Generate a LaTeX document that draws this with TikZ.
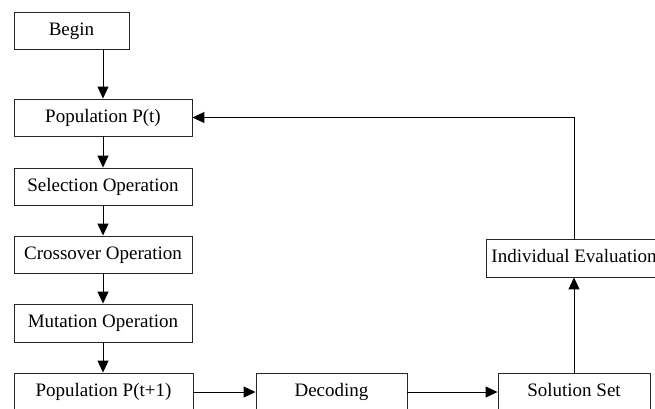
\documentclass[tikz,border=0pt]{standalone}
\usepackage{fontspec}
\setmainfont{Liberation Serif}
\usetikzlibrary{arrows.meta}
\begin{document}
\begin{tikzpicture}[x=1pt,y=-1pt,
  box/.style={draw=black!85,line width=0.9pt,rectangle,inner sep=0pt,
    font=\fontsize{19}{22}\selectfont,minimum height=37pt,
    text height=13pt,text depth=4pt},
  conn/.style={draw=black,line width=1pt,-{Triangle[length=12pt,width=11pt]}}]
\clip (0,0) rectangle (655,408);
\fill[white] (0,0) rectangle (655,408);
\node[box,minimum width=115pt] (begin) at (71.5,30.5) {Begin};
\node[box,minimum width=178pt] (popt) at (103,117.5) {Population P(t)};
\node[box,minimum width=178pt] (sel) at (103,186.5) {Selection Operation};
\node[box,minimum width=178pt] (cross) at (103,254.5) {Crossover Operation};
\node[box,minimum width=178pt,minimum height=38pt] (mut) at (103,323) {Mutation Operation};
\node[box,minimum width=179pt,minimum height=38pt] (popt1) at (103.5,392) {Population P(t+1)};
\node[box,minimum width=151pt,minimum height=38pt] (dec) at (331.5,392) {Decoding};
\node[box,minimum width=152pt,minimum height=38pt] (sol) at (574,392) {Solution Set};
\node[box,minimum width=176pt,minimum height=38pt] (ind) at (574,258) {Individual Evaluation};
\draw[conn] (popt.north |- begin.south) -- (popt.north);
\draw[conn] (popt.south) -- (sel.north);
\draw[conn] (sel.south) -- (cross.north);
\draw[conn] (cross.south) -- (mut.north);
\draw[conn] (mut.south) -- (mut.south |- popt1.north);
\draw[conn] (popt1.east) -- (dec.west);
\draw[conn] (dec.east) -- (sol.west);
\draw[conn] (sol.north) -- (ind.south);
\draw[conn] (ind.north) |- (popt.east);
\end{tikzpicture}
\end{document}
